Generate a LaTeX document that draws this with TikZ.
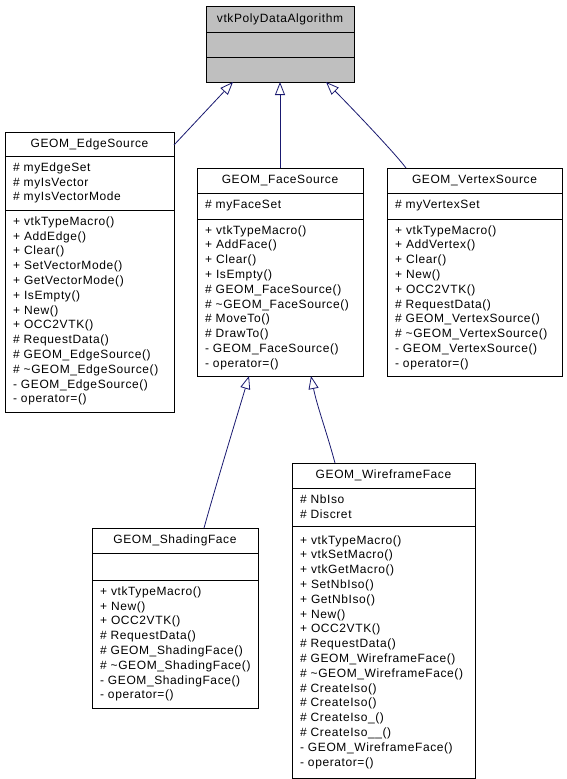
\documentclass[tikz,border=0pt]{standalone}
\usepackage{fontspec}
\setmainfont{Liberation Sans}[LetterSpace=5]
\usetikzlibrary{arrows.meta}
\definecolor{inheritblue}{RGB}{25,25,112}
\definecolor{basegray}{RGB}{191,191,191}

\begin{document}
\begin{tikzpicture}[x=1pt,y=-1pt]
            \path[use as bounding box, fill=white] (0,0) rectangle (567,779);
            \begin{scope}[every node/.style={draw=black, line width=1pt, outer sep=0pt, inner sep=0pt, anchor=north west, font=\fontsize{12}{14.8}\selectfont},
                classname/.style={minimum height=25pt, align=center},
                members/.style={inner xsep=8pt, inner ysep=0pt, align=left}]
                % base class
                \node[classname, fill=basegray, minimum width=148pt, minimum height=26pt] (poly) at (206,6) {vtkPolyDataAlgorithm};
                \node[members, fill=basegray, text width=132pt, minimum height=25pt] (poly attr) at (poly.south west) {};
                \node[members, fill=basegray, text width=132pt, minimum height=25pt] (poly ops) at (poly attr.south west) {};

                % GEOM_EdgeSource
                \node[classname, minimum width=169pt, minimum height=24pt] (edge) at (5,132) {GEOM\_EdgeSource};
                \node[members, text width=153pt, minimum height=54pt] (edge attr) at (edge.south west) {\# myEdgeSet\\\# myIsVector\\\# myIsVectorMode};
                \node[members, text width=153pt, minimum height=202pt] (edge ops) at (edge attr.south west) {+ vtkTypeMacro()\\+ AddEdge()\\+ Clear()\\+ SetVectorMode()\\+ GetVectorMode()\\+ IsEmpty()\\+ New()\\+ OCC2VTK()\\\# RequestData()\\\# GEOM\_EdgeSource()\\\#~\textasciitilde GEOM\_EdgeSource()\\- GEOM\_EdgeSource()\\- operator=()};

                % GEOM_FaceSource
                \node[classname, minimum width=166pt] (face) at (197,168) {GEOM\_FaceSource};
                \node[members, text width=150pt, minimum height=26pt] (face attr) at (face.south west) {\# myFaceSet};
                \node[members, text width=150pt, minimum height=157pt] (face ops) at (face attr.south west) {+ vtkTypeMacro()\\+ AddFace()\\+ Clear()\\+ IsEmpty()\\\# GEOM\_FaceSource()\\\#~\textasciitilde GEOM\_FaceSource()\\\# MoveTo()\\\# DrawTo()\\- GEOM\_FaceSource()\\- operator=()};

                % GEOM_VertexSource
                \node[classname, minimum width=175pt] (vertex) at (387,168) {GEOM\_VertexSource};
                \node[members, text width=159pt, minimum height=26pt] (vertex attr) at (vertex.south west) {\# myVertexSet};
                \node[members, text width=159pt, minimum height=157pt] (vertex ops) at (vertex attr.south west) {+ vtkTypeMacro()\\+ AddVertex()\\+ Clear()\\+ New()\\+ OCC2VTK()\\\# RequestData()\\\# GEOM\_VertexSource()\\\#~\textasciitilde GEOM\_VertexSource()\\- GEOM\_VertexSource()\\- operator=()};

                % GEOM_ShadingFace
                \node[classname, minimum width=166pt] (shading) at (92,528) {GEOM\_ShadingFace};
                \node[members, text width=150pt, minimum height=27pt] (shading attr) at (shading.south west) {};
                \node[members, text width=150pt, minimum height=128pt] (shading ops) at (shading attr.south west) {+ vtkTypeMacro()\\+ New()\\+ OCC2VTK()\\\# RequestData()\\\# GEOM\_ShadingFace()\\\#~\textasciitilde GEOM\_ShadingFace()\\- GEOM\_ShadingFace()\\- operator=()};

                % GEOM_WireframeFace
                \node[classname, minimum width=183pt] (wire) at (292,463) {GEOM\_WireframeFace};
                \node[members, text width=167pt, minimum height=38pt] (wire attr) at (wire.south west) {\# NbIso\\\# Discret};
                \node[members, text width=167pt, minimum height=252pt] (wire ops) at (wire attr.south west) {+ vtkTypeMacro()\\+ vtkSetMacro()\\+ vtkGetMacro()\\+ SetNbIso()\\+ GetNbIso()\\+ New()\\+ OCC2VTK()\\\# RequestData()\\\# GEOM\_WireframeFace()\\\#~\textasciitilde GEOM\_WireframeFace()\\\# CreateIso()\\\# CreateIso()\\\# CreateIso\_()\\\# CreateIso\_\_()\\- GEOM\_WireframeFace()\\- operator=()};
            \end{scope}
            \begin{scope}[every path/.style={draw=inheritblue, line width=0.8pt, -{Triangle[open, length=13pt, width=10pt]}}]
                \path ([yshift=-1pt]edge.east) -- ([xshift=27pt]poly ops.south west);
                \path (face.north) -- (poly ops.south);
                \path ([xshift=19pt]vertex.north west) .. controls +(-12,-16) and +(22,22) .. ([xshift=-28pt]poly ops.south east);
                \path ([xshift=112pt]shading.north west) .. controls +(14,-50) and +(-12,40) .. ([xshift=52pt]face ops.south west);
                \path ([xshift=43pt]wire.north west) .. controls +(-8,-30) and +(6,30) .. ([xshift=-52pt]face ops.south east);
            \end{scope}
        \end{tikzpicture}
\end{document}
